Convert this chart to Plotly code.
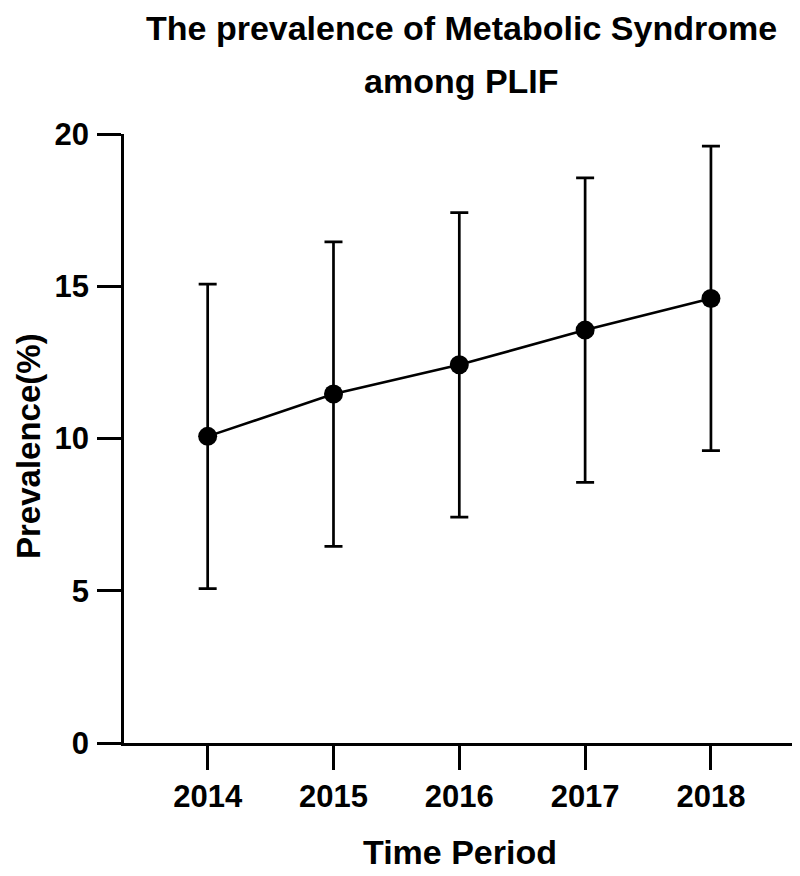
import plotly.graph_objects as go

years = [2014, 2015, 2016, 2017, 2018]
year_labels = ["2014", "2015", "2016", "2017", "2018"]
prevalence = [10.07, 11.46, 12.42, 13.56, 14.60]
err_upper = [5.0, 5.0, 5.0, 5.0, 5.0]
err_lower = [5.0, 5.0, 5.0, 5.0, 5.0]
y_ticks = [0, 5, 10, 15, 20]

FONT = "Liberation Sans, Arial, sans-serif"
OFF = 8  # default page body margin
W, H = 800 - OFF, 876 - OFF
L = 124 - OFF
T = 134 - OFF
R = W - (797 - OFF)
B = H - (743 - OFF)
plot_w = W - L - R
plot_h = H - T - B


def px_to_paper_x(px):
    return (px - OFF - L) / plot_w


def px_to_paper_y(py):
    return (T + plot_h - (py - OFF)) / plot_h


fig = go.Figure()
fig.add_trace(go.Scatter(
    x=years, y=prevalence, mode="lines+markers",
    line=dict(color="black", width=2.6),
    marker=dict(color="black", size=19),
    error_y=dict(type="data", symmetric=False, array=err_upper, arrayminus=err_lower,
                 color="black", thickness=2.7, width=9),
    showlegend=False, cliponaxis=False,
))

title_font = dict(size=34, family=FONT, color="black", weight="bold")
ytitle_font = dict(size=33, family=FONT, color="black", weight="bold")
tick_font = dict(size=31, family=FONT, color="black", weight="bold")

fig.update_layout(
    width=W, height=H,
    margin=dict(l=L, r=R, t=T, b=B, autoexpand=False),
    paper_bgcolor="white", plot_bgcolor="white",
    font=dict(family=FONT, color="black"),
    annotations=[
        dict(text="The prevalence of Metabolic Syndrome", xref="paper", yref="paper",
             x=px_to_paper_x(461), y=px_to_paper_y(28), xanchor="center", yanchor="middle",
             showarrow=False, font=title_font),
        dict(text="among PLIF", xref="paper", yref="paper",
             x=px_to_paper_x(461), y=px_to_paper_y(81), xanchor="center", yanchor="middle",
             showarrow=False, font=title_font),
        dict(text="Prevalence(%)", xref="paper", yref="paper", textangle=-90,
             x=px_to_paper_x(28), y=px_to_paper_y(446), xanchor="center", yanchor="middle",
             showarrow=False, font=ytitle_font, borderpad=0),
        dict(text="Time Period", xref="paper", yref="paper",
             x=px_to_paper_x(460), y=px_to_paper_y(852), xanchor="center", yanchor="middle",
             showarrow=False, font=title_font, borderpad=0),
    ],
)

fig.update_xaxes(
    range=[2013.335, 2018.684], tickvals=years, ticktext=year_labels,
    showline=True, linecolor="black", linewidth=2.8,
    ticks="outside", ticklen=24, tickwidth=2.7, tickcolor="black",
    ticklabelstandoff=0, automargin=False,
    showgrid=False, zeroline=False,
    tickfont=tick_font,
)
fig.update_yaxes(
    range=[0, 20], tickvals=y_ticks,
    showline=True, linecolor="black", linewidth=2.8,
    ticks="outside", ticklen=24, tickwidth=2.7, tickcolor="black",
    ticklabelstandoff=2, automargin=False,
    showgrid=False, zeroline=False,
    tickfont=tick_font,
)

fig.write_html("out.html")
